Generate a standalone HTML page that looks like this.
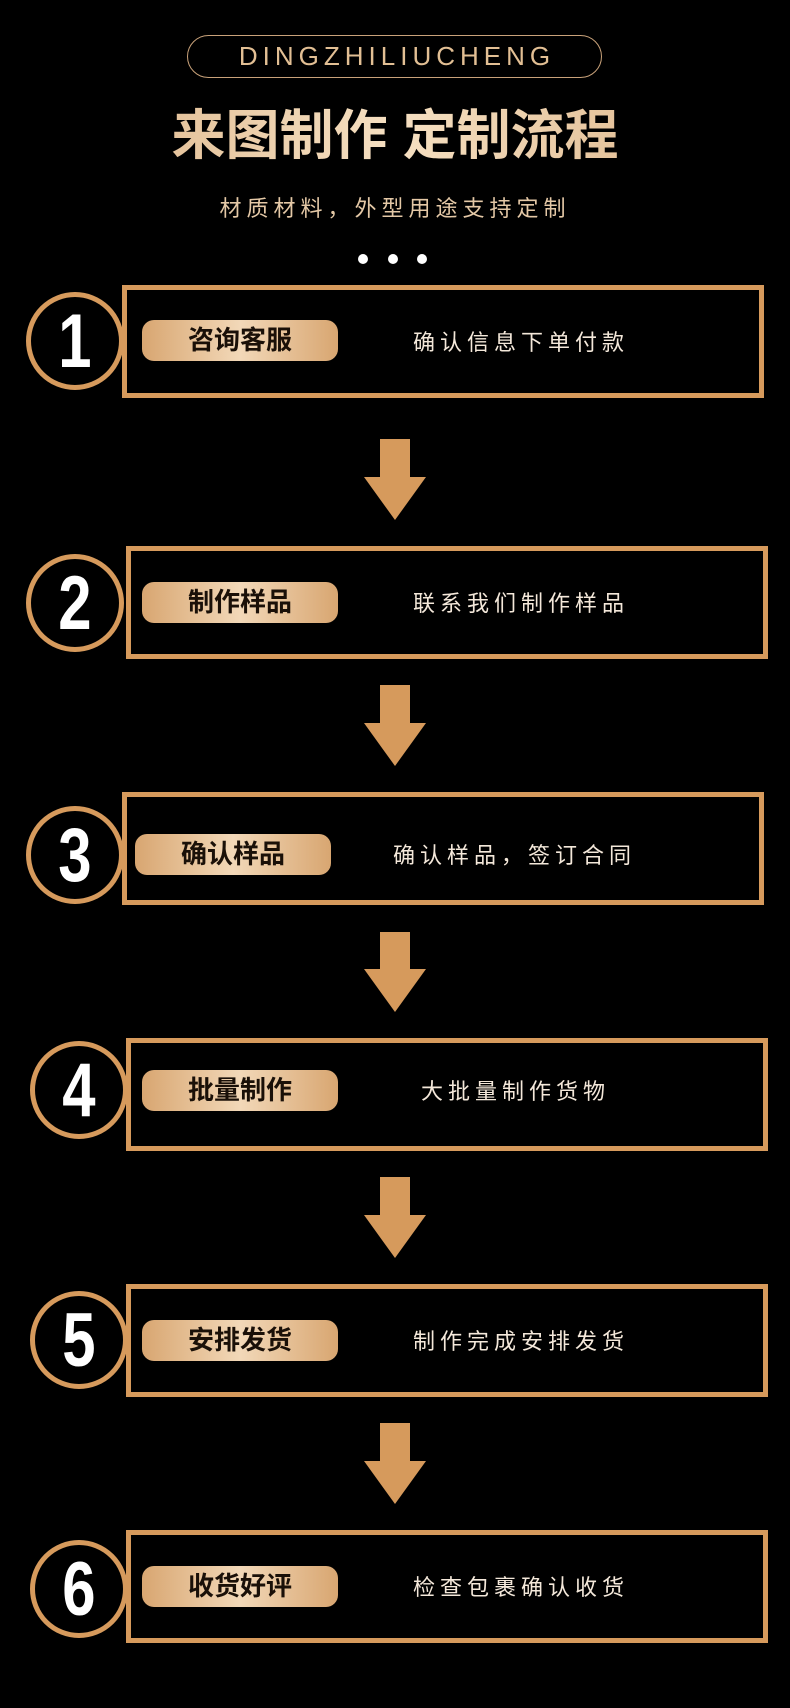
<!DOCTYPE html>
<html><head><meta charset="utf-8"><style>
*{margin:0;padding:0;box-sizing:border-box}
body{width:790px;height:1708px;background:#000;position:relative;overflow:hidden;font-family:"Liberation Sans","Noto Sans CJK SC",sans-serif}
.a{position:absolute}
.top{left:187px;top:35px;width:415px;height:43px;border:1px solid #c9a27a;border-radius:22px;color:#e2bf94;font-size:26px;letter-spacing:5px;text-align:center;line-height:41px;padding-left:5px}
.title{left:0;width:790px;top:104px;text-align:center;font-size:54px;font-weight:bold;line-height:64px;color:#e9c9a0;background:linear-gradient(90deg,#d8ae80,#f6e0c2 50%,#d8ae80);-webkit-background-clip:text;background-clip:text;-webkit-text-fill-color:transparent}
.sub{left:0;width:790px;top:194px;text-align:center;font-size:22px;letter-spacing:5px;color:#e4c8a6;line-height:30px}
.dot{width:10px;height:10px;border-radius:50%;background:#fff;top:254px}
.box{border:5px solid #d69a5c;width:642px;height:113px}
.circ{width:98px;height:98px;border:5px solid #d69a5c;border-radius:50%;color:#fff;text-align:center;line-height:88px}
.circ span{display:inline-block;font-size:68px;font-weight:bold;transform:scale(0.88,1.12);font-family:"Liberation Sans",sans-serif}
.pill{width:196px;height:41px;border-radius:12px;background:linear-gradient(90deg,#d8a671,#f2d8b8 50%,#d8a671);color:#1a1008;font-size:26px;font-weight:bold;text-align:center;line-height:41px}
.desc{font-size:22px;letter-spacing:5px;color:#f4e8da;line-height:30px}
.shaft{width:30px;background:#d69a5c}
.head{width:0;height:0;border-left:31px solid transparent;border-right:31px solid transparent;border-top:43px solid #d69a5c}
</style></head><body>
<div class="a top">DINGZHILIUCHENG</div>
<div class="a title">来图制作 定制流程</div>
<div class="a sub">材质材料，外型用途支持定制</div>
<div class="a dot" style="left:358px"></div><div class="a dot" style="left:388px"></div><div class="a dot" style="left:417px"></div>

<div class="a box" style="left:122px;top:285px"></div>
<div class="a circ" style="left:26px;top:292px"><span>1</span></div>
<div class="a pill" style="left:142px;top:320px">咨询客服</div>
<div class="a desc" style="left:413px;top:328px">确认信息下单付款</div>

<div class="a shaft" style="left:380px;top:439px;height:39px"></div><div class="a head" style="left:364px;top:477px"></div>

<div class="a box" style="left:126px;top:546px"></div>
<div class="a circ" style="left:26px;top:554px"><span>2</span></div>
<div class="a pill" style="left:142px;top:582px">制作样品</div>
<div class="a desc" style="left:413px;top:589px">联系我们制作样品</div>

<div class="a shaft" style="left:380px;top:685px;height:39px"></div><div class="a head" style="left:364px;top:723px"></div>

<div class="a box" style="left:122px;top:792px"></div>
<div class="a circ" style="left:26px;top:806px"><span>3</span></div>
<div class="a pill" style="left:135px;top:834px">确认样品</div>
<div class="a desc" style="left:393px;top:841px">确认样品，签订合同</div>

<div class="a shaft" style="left:380px;top:932px;height:38px"></div><div class="a head" style="left:364px;top:969px"></div>

<div class="a box" style="left:126px;top:1038px"></div>
<div class="a circ" style="left:30px;top:1041px"><span>4</span></div>
<div class="a pill" style="left:142px;top:1070px">批量制作</div>
<div class="a desc" style="left:421px;top:1077px">大批量制作货物</div>

<div class="a shaft" style="left:380px;top:1177px;height:39px"></div><div class="a head" style="left:364px;top:1215px"></div>

<div class="a box" style="left:126px;top:1284px"></div>
<div class="a circ" style="left:30px;top:1291px"><span>5</span></div>
<div class="a pill" style="left:142px;top:1320px">安排发货</div>
<div class="a desc" style="left:413px;top:1327px">制作完成安排发货</div>

<div class="a shaft" style="left:380px;top:1423px;height:39px"></div><div class="a head" style="left:364px;top:1461px"></div>

<div class="a box" style="left:126px;top:1530px"></div>
<div class="a circ" style="left:30px;top:1540px"><span>6</span></div>
<div class="a pill" style="left:142px;top:1566px">收货好评</div>
<div class="a desc" style="left:413px;top:1573px">检查包裹确认收货</div>
</body></html>
